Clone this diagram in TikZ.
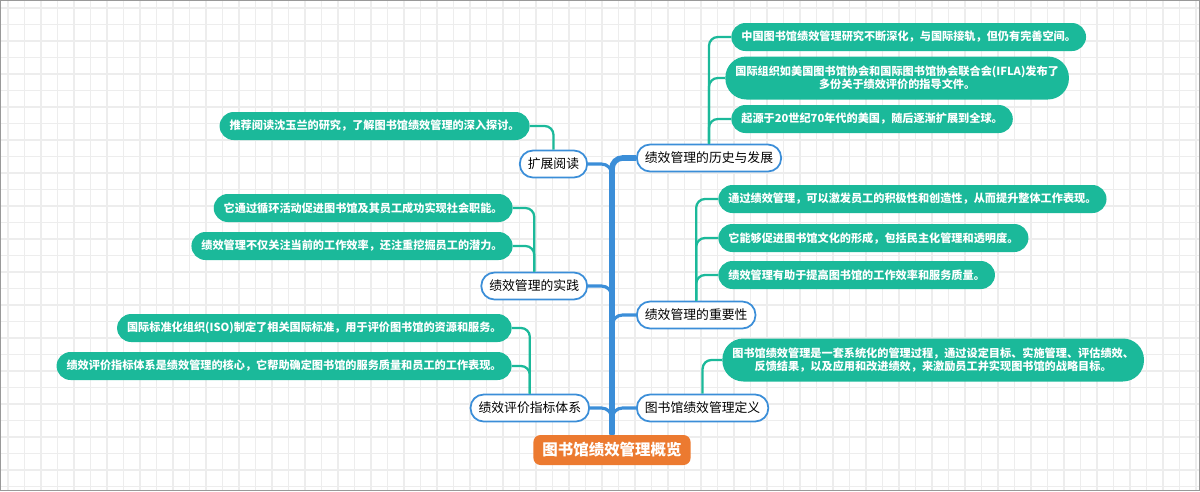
\documentclass[tikz,border=0pt]{standalone}
\usepackage{fontspec}
\setmainfont{Noto Sans CJK SC}
\definecolor{leafgreen}{HTML}{1BB99A}
\definecolor{trunkblue}{HTML}{3B8ED8}
\definecolor{rootorange}{HTML}{EC7A30}
\definecolor{gridgray}{HTML}{EDEDED}
\begin{document}
\begin{tikzpicture}[x=0.02cm,y=-0.02cm,
        leaf/.style={fill=leafgreen,text=white,rounded corners=8pt,inner xsep=0.2cm,inner ysep=0pt,
                minimum height=0.56cm,align=center,font=\fontsize{6.35}{7.2}\selectfont\bfseries},
        leaftwo/.style={leaf,rounded corners=12pt,minimum height=0.86cm},
        topic/.style={draw=trunkblue,line width=1pt,fill=white,rounded corners=7.5pt,inner xsep=0.16cm,
                inner ysep=0pt,minimum height=0.54cm,font=\fontsize{7.3}{8}\selectfont},
        root/.style={fill=rootorange,text=white,rounded corners=4pt,inner xsep=0.18cm,inner ysep=0pt,
                minimum height=0.6cm,font=\fontsize{8.8}{9}\selectfont\bfseries},
        trunk/.style={draw=trunkblue,line width=3.2pt,rounded corners=6pt},
        branchline/.style={draw=trunkblue,line width=1.8pt,rounded corners=6pt},
        leafline/.style={draw=leafgreen,line width=1.3pt,rounded corners=5pt}]
        \useasboundingbox (0,0) rectangle (1200,491);
        \foreach \x in {8,24.5,...,1200}{
                \draw[gridgray,line width=0.6pt] (\x,0) -- (\x,491);
            }
        \foreach \y in {8,24.5,...,491}{
                \draw[gridgray,line width=0.6pt] (0,\y) -- (1200,\y);
            }
        \draw[gray!80,line width=0.8pt] (0.5,0.5) rectangle (1199.5,490.5);

        \node[root] (root) at (612,450) {图书馆绩效管理概览};

        \node[topic,anchor=west] (hist) at (636,158) {绩效管理的历史与发展};
        \node[topic,anchor=west] (imp) at (636,315) {绩效管理的重要性};
        \node[topic,anchor=west] (def) at (636,408) {图书馆绩效管理定义};
        \node[topic,anchor=east] (read) at (588,164) {扩展阅读};
        \node[topic,anchor=east] (prac) at (588,286) {绩效管理的实践};
        \node[topic,anchor=east] (eval) at (590,408) {绩效评价指标体系};

        \draw[trunk] (root.north) |- (hist.west);
        \draw[branchline] (imp.west) -| (root.north);
        \draw[branchline] (def.west) -| (root.north);
        \draw[branchline] (read.east) -| (root.north);
        \draw[branchline] (prac.east) -| (root.north);
        \draw[branchline] (eval.east) -| (root.north);

        \node[leaf,anchor=west] (h1) at (731,37) {中国图书馆绩效管理研究不断深化，与国际接轨，但仍有完善空间。};
        \node[leaftwo,anchor=west] (h2) at (725,78) {国际组织如美国图书馆协会和国际图书馆协会联合会(IFLA)发布了\\多份关于绩效评价的指导文件。};
        \node[leaf,anchor=west] (h3) at (731,119) {起源于20世纪70年代的美国，随后逐渐扩展到全球。};
        \foreach \n in {h1,h2,h3}{
                \draw[leafline] (hist.north) |- (\n.west);
            }

        \node[leaf,anchor=west] (i1) at (718,199) {通过绩效管理，可以激发员工的积极性和创造性，从而提升整体工作表现。};
        \node[leaf,anchor=west] (i2) at (718,238) {它能够促进图书馆文化的形成，包括民主化管理和透明度。};
        \node[leaf,anchor=west] (i3) at (718,275) {绩效管理有助于提高图书馆的工作效率和服务质量。};
        \foreach \n in {i1,i2,i3}{
                \draw[leafline] (imp.north) |- (\n.west);
            }

        \node[leaftwo,anchor=west] (d1) at (722,360) {图书馆绩效管理是一套系统化的管理过程，通过设定目标、实施管理、评估绩效、\\反馈结果，以及应用和改进绩效，来激励员工并实现图书馆的战略目标。};
        \draw[leafline] (def.north) |- (d1.west);

        \node[leaf,anchor=east] (r1) at (530,126) {推荐阅读沈玉兰的研究，了解图书馆绩效管理的深入探讨。};
        \draw[leafline] (read.north) |- (r1.east);

        \node[leaf,anchor=east] (p1) at (513,208) {它通过循环活动促进图书馆及其员工成功实现社会职能。};
        \node[leaf,anchor=east] (p2) at (513,246) {绩效管理不仅关注当前的工作效率，还注重挖掘员工的潜力。};
        \foreach \n in {p1,p2}{
                \draw[leafline] (prac.north) |- (\n.east);
            }

        \node[leaf,anchor=east] (e1) at (512,328) {国际标准化组织(ISO)制定了相关国际标准，用于评价图书馆的资源和服务。};
        \node[leaf,anchor=east] (e2) at (512,366) {绩效评价指标体系是绩效管理的核心，它帮助确定图书馆的服务质量和员工的工作表现。};
        \foreach \n in {e1,e2}{
                \draw[leafline] (eval.north) |- (\n.east);
            }
    \end{tikzpicture}
\end{document}
